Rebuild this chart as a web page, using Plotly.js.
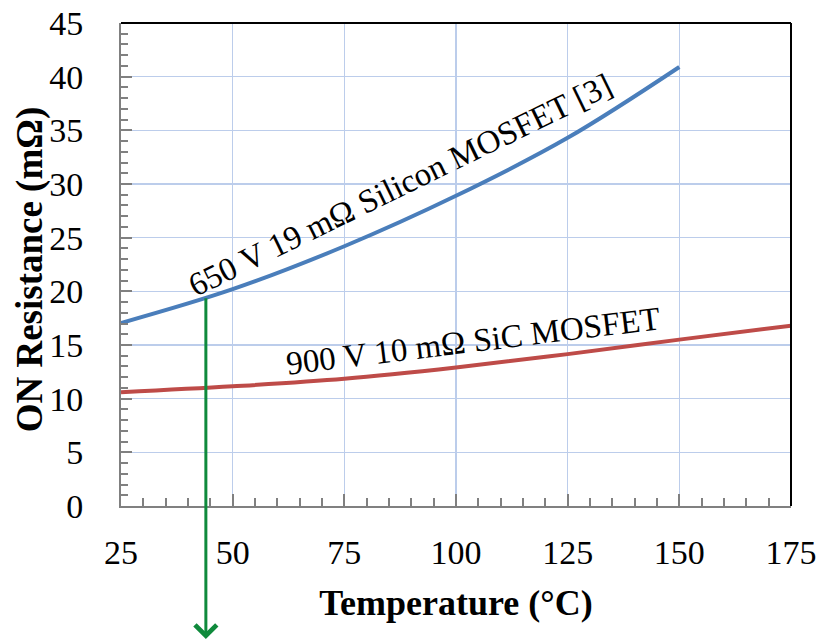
<!DOCTYPE html>
<html>
<head>
<meta charset="utf-8">
<script src="https://cdn.plot.ly/plotly-3.0.1.min.js"></script>
<style>html,body{margin:0;padding:0;background:#fff;}#chart{width:819px;height:641px;}</style>
</head>
<body>
<div id="chart"></div>
<script>
// Data
var siTemps = [25, 50, 75, 100, 125, 150];
var siRon   = [17.05, 20.2, 24.2, 28.9, 34.3, 40.9];
var sicTemps = [25, 50, 75, 100, 125, 150, 175];
var sicRon   = [10.6, 11.15, 11.85, 12.9, 14.15, 15.5, 16.8];
var siLabel  = "650 V 19 mΩ Silicon MOSFET [3]";
var sicLabel = "900 V 10 mΩ SiC MOSFET";
var markerTemp = 44;
var markerRon = 19.5;
var xTitle = "Temperature (°C)";
var yTitle = "ON Resistance (mΩ)";

var serif = "'Liberation Serif'";

var traces = [
  {x: siTemps, y: siRon, mode: "lines", line: {color: "#4a7ebb", width: 4, shape: "spline"}, hoverinfo: "skip"},
  {x: sicTemps, y: sicRon, mode: "lines", line: {color: "#be4b48", width: 4, shape: "spline"}, hoverinfo: "skip"}
];

var layout = {
  width: 819, height: 641,
  margin: {l: 121, r: 28, t: 23, b: 135},
  paper_bgcolor: "#ffffff", plot_bgcolor: "#ffffff",
  showlegend: false,
  font: {family: serif, color: "#000"},
  xaxis: {
    range: [25, 175], dtick: 25, tick0: 25,
    showgrid: true, gridcolor: "#bccdeb", gridwidth: 1.5,
    zeroline: false,
    showline: true, linecolor: "#808080", linewidth: 2,
    ticks: "inside", ticklen: 12, tickcolor: "#808080", tickwidth: 2,
    minor: {dtick: 5, ticks: "inside", ticklen: 8, tickcolor: "#808080", tickwidth: 2, showgrid: false},
    tickfont: {family: serif, size: 34, color: "#000"},
    ticklabelstandoff: 15,
    title: {text: xTitle, font: {family: serif, size: 36, color: "#000", weight: "bold"}, standoff: 20},
    fixedrange: true
  },
  yaxis: {
    range: [0, 45], dtick: 5,
    showgrid: true, gridcolor: "#bccdeb", gridwidth: 1.5,
    zeroline: false,
    showline: true, linecolor: "#808080", linewidth: 2,
    ticks: "inside", ticklen: 11, tickcolor: "#808080", tickwidth: 2,
    minor: {dtick: 1, ticks: "inside", ticklen: 7, tickcolor: "#808080", tickwidth: 2, showgrid: false},
    tickfont: {family: serif, size: 34, color: "#000"},
    ticklabelstandoff: 29,
    fixedrange: true
  },
  shapes: [
    {type: "line", xref: "paper", yref: "paper", x0: 0, x1: 1, y0: 1, y1: 1, line: {color: "#000", width: 2}},
    {type: "line", xref: "paper", yref: "paper", x0: 1, x1: 1, y0: 0, y1: 1, line: {color: "#000", width: 2}}
  ],
  annotations: [
    {x: -0.1358, y: 0.49, xref: "paper", yref: "paper", text: yTitle, showarrow: false, textangle: -90,
     xanchor: "center", yanchor: "middle",
     font: {family: serif, size: 37, color: "#000", weight: "bold"}},
    {x: 87.5, y: 29.9, xref: "x", yref: "y", text: siLabel, showarrow: false, textangle: -26,
     font: {family: serif, size: 33, color: "#000"}},
    {x: 103.8, y: 15.4, xref: "x", yref: "y", text: sicLabel, showarrow: false, textangle: -7,
     font: {family: serif, size: 33, color: "#000"}},
    {x: markerTemp, y: -12.4, xref: "x", yref: "y", ax: markerTemp, ay: markerRon, axref: "x", ayref: "y",
     text: "", showarrow: true, arrowhead: 4, arrowsize: 1.4, arrowwidth: 3, arrowcolor: "#0f8a3c",
     standoff: 0, startstandoff: 0}
  ]
};

Plotly.newPlot("chart", traces, layout, {staticPlot: true, displayModeBar: false});
</script>
</body>
</html>
